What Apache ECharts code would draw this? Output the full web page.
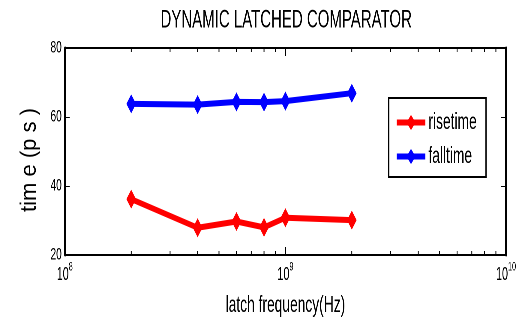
<!DOCTYPE html>
<html>
<head>
<meta charset="utf-8">
<script src="https://cdn.jsdelivr.net/npm/echarts@6/dist/echarts.min.js"></script>
<style>
  html, body { margin: 0; padding: 0; overflow: hidden; background: #fff; width: 518px; height: 324px; }
  #wrap { width: 518px; height: 324px; overflow: hidden; position: relative; }
  /* drawn wide, then narrowed horizontally to give the condensed figure look */
  #chart { width: 863px; height: 324px; transform: scaleX(0.6); transform-origin: 0 0; position: absolute; left: 0; top: 0; }
</style>
</head>
<body>
<div id="wrap"><div id="chart"></div></div>
<script>
// latch frequency in Hz
const frequencies = [2e8, 4e8, 6e8, 8e8, 1e9, 2e9];
// delays in ps
const risetime = [36.2, 27.9, 29.7, 28.0, 30.8, 30.1];
const falltime = [63.8, 63.6, 64.4, 64.3, 64.6, 66.9];
// axes
const xRange = [1e8, 1e10];
const yTicks = [20, 40, 60, 80];
const minorTicks = [2e8, 3e8, 4e8, 5e8, 6e8, 7e8, 8e8, 9e8, 2e9, 3e9, 4e9, 5e9, 6e9, 7e9, 8e9, 9e9];

const FONT = '"Liberation Sans", Arial, Helvetica, sans-serif';

const chart = echarts.init(document.getElementById('chart'), null, { renderer: 'canvas', devicePixelRatio: 2 });

function xAxisBase(pos) {
  return {
    type: 'log',
    logBase: 10,
    min: xRange[0],
    max: xRange[1],
    position: pos,
    splitLine: { show: false },
    axisLine: { onZero: false, lineStyle: { color: '#000', width: 2 } },
    axisTick: { inside: true, length: 8, lineStyle: { color: '#000', width: 1.5 } },
  };
}
function yAxisBase(pos) {
  return {
    type: 'value',
    min: yTicks[0],
    max: yTicks[yTicks.length - 1],
    interval: yTicks[1] - yTicks[0],
    position: pos,
    splitLine: { show: false },
    axisLine: { onZero: false, lineStyle: { color: '#000', width: 3 } },
    axisTick: { inside: true, length: 8, lineStyle: { color: '#000', width: 1 } },
  };
}

const xBottom = Object.assign(xAxisBase('bottom'), {
  name: 'latch frequency(Hz)',
  nameLocation: 'middle',
  nameGap: 39,
  nameTextStyle: { fontSize: 23, color: '#000', fontFamily: FONT },
  axisLabel: {
    margin: 6,
    formatter: function (v) {
      const e = Math.round(Math.log10(v));
      return '{b|10}{s|' + e + '}';
    },
    rich: {
      b: { fontSize: 18, color: '#000', fontFamily: FONT },
      s: { fontSize: 12, color: '#000', fontFamily: FONT, padding: [0, 0, 16, 0] }
    }
  }
});
const xTop = Object.assign(xAxisBase('top'), { axisLabel: { show: false } });

const yLeft = Object.assign(yAxisBase('left'), {
  axisLabel: { margin: 5, fontSize: 17, color: '#000', fontFamily: FONT }
});
const yRight = Object.assign(yAxisBase('right'), { axisLabel: { show: false } });

function lineSeries(name, values, color) {
  return {
    name: name,
    type: 'line',
    xAxisIndex: 0,
    yAxisIndex: 0,
    data: frequencies.map((f, i) => [f, values[i]]),
    color: color,
    lineStyle: { color: color, width: 6 },
    itemStyle: { color: color },
    symbol: 'diamond',
    symbolSize: [16, 19],
    showSymbol: true,
    z: 5
  };
}

// legend frame
const legendBox = { left: 647, top: 97, width: 162, height: 79 };

chart.setOption({
  animation: false,
  backgroundColor: '#fff',
  title: {
    text: 'DYNAMIC LATCHED COMPARATOR',
    left: 477,
    top: 8,
    textAlign: 'center',
    padding: 0,
    textStyle: { fontSize: 25, fontWeight: 'normal', color: '#000', fontFamily: FONT }
  },
  grid: { left: 108, right: 10, top: 48, bottom: 69, containLabel: false },
  legend: {
    data: ['risetime', 'falltime'],
    orient: 'vertical',
    left: legendBox.left,
    top: legendBox.top,
    padding: [14, 8, 8, 11],
    itemGap: 11,
    itemWidth: 48,
    itemHeight: 19,
    borderWidth: 0,
    z: 10,
    lineStyle: { width: 6 },
    textStyle: { fontSize: 23, color: '#000', fontFamily: FONT }
  },
  xAxis: [xBottom, xTop],
  yAxis: [yLeft, yRight],
  graphic: [{
    type: 'text',
    x: 49,
    y: 160,
    rotation: Math.PI / 2,
    scaleY: 1.7,
    style: {
      text: 'tim e (p s )',
      fontSize: 22,
      fontFamily: FONT,
      fill: '#000',
      align: 'center',
      verticalAlign: 'middle'
    }
  }, {
    type: 'rect',
    left: legendBox.left,
    top: legendBox.top,
    z: 8,
    shape: { x: 0, y: 0, width: legendBox.width, height: legendBox.height },
    style: { fill: '#fff', stroke: '#000', lineWidth: 2 }
  }],
  series: [
    lineSeries('risetime', risetime, '#ff0000'),
    lineSeries('falltime', falltime, '#0000ff'),
    {
      // minor log ticks along the bottom and top edges
      type: 'custom',
      silent: true,
      clip: false,
      xAxisIndex: 0,
      yAxisIndex: 0,
      data: minorTicks.map(v => [v, yTicks[0]]),
      z: 3,
      renderItem: function (params, api) {
        const v = api.value(0);
        const b = api.coord([v, yTicks[0]]);
        const t = api.coord([v, yTicks[yTicks.length - 1]]);
        const st = { stroke: '#000', lineWidth: 1.5 };
        return {
          type: 'group',
          children: [
            { type: 'line', shape: { x1: b[0], y1: b[1], x2: b[0], y2: b[1] - 4 }, style: st },
            { type: 'line', shape: { x1: t[0], y1: t[1], x2: t[0], y2: t[1] + 4 }, style: st }
          ]
        };
      }
    }
  ]
});
</script>
</body>
</html>
